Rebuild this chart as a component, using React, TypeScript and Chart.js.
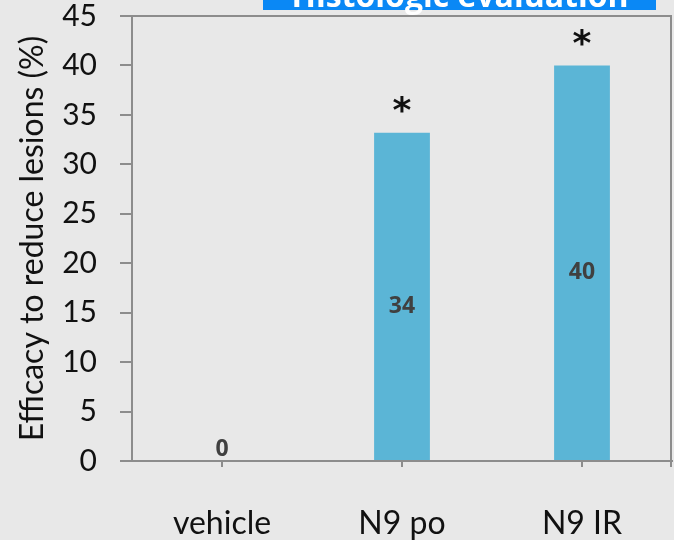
import React, { useEffect, useRef } from "react";
import { Chart, registerables } from "chart.js";

Chart.register(...registerables);

const categories = ["vehicle", "N9 po", "N9 IR"];
const efficacy = [0, 33.2, 40];
const valueLabels = ["0", "34", "40"];
const significance = ["", "*", "*"];
const yMin = 0;
const yMax = 45;
const yStep = 5;
const chartTitle = "Histologic evaluation";
const yAxisTitle = "Efficacy to reduce lesions (%)";

const FONT = "Lato, 'Liberation Sans', sans-serif";
const AXIS_COLOR = "#8c8c8c";
const BG = "#e8e8e8";

const decorPlugin = {
  id: "decor",
  beforeDraw(chart: any) {
    const ctx = chart.ctx;
    ctx.save();
    ctx.fillStyle = BG;
    ctx.fillRect(0, 0, chart.width, chart.height);
    ctx.restore();
  },
  afterDraw(chart: any) {
    const ctx = chart.ctx;
    const { top, right, bottom } = chart.chartArea;
    const meta = chart.getDatasetMeta(0);
    ctx.save();
    ctx.strokeStyle = AXIS_COLOR;
    ctx.lineWidth = 2;
    ctx.beginPath();
    ctx.moveTo(chart.chartArea.left, top);
    ctx.lineTo(right - 1, top);
    ctx.lineTo(right - 1, bottom + 6);
    ctx.stroke();

    meta.data.forEach((bar: any, i: number) => {
      const base = bar.base;
      const yTop = bar.y;
      ctx.fillStyle = "#404040";
      ctx.font = `bold 23px 'Open Sans', sans-serif`;
      ctx.textAlign = "center";
      ctx.textBaseline = "middle";
      const ly = efficacy[i] === 0 ? base - 12 : (yTop + base) / 2 + 10;
      ctx.fillText(valueLabels[i], bar.x, ly);
      if (significance[i]) {
        ctx.fillStyle = "#111";
        ctx.font = `bold 36px 'DejaVu Sans', sans-serif`;
        ctx.textBaseline = "middle";
        ctx.fillText(significance[i], bar.x, yTop - 20);
      }
    });

    ctx.fillStyle = "#0a88f5";
    ctx.fillRect(263, 0, 393, 10);
    ctx.fillStyle = "#ffffff";
    ctx.font = `bold 32px 'Open Sans', sans-serif`;
    ctx.textAlign = "center";
    ctx.textBaseline = "alphabetic";
    ctx.fillText(chartTitle, 460, 7);
    ctx.restore();
  },
};

export default function App() {
  const ref = useRef<HTMLCanvasElement>(null);
  useEffect(() => {
    if (!ref.current) return;
    const chart = new Chart(ref.current, {
      type: "bar",
      data: {
        labels: categories,
        datasets: [
          {
            data: efficacy,
            backgroundColor: "#5bb5d6",
            borderWidth: 0,
            barPercentage: 0.31,
            categoryPercentage: 1,
          },
        ],
      },
      options: {
        responsive: false,
        animation: false,
        layout: { padding: { top: 16, right: 2, left: 0, bottom: 0 } },
        plugins: {
          legend: { display: false },
          tooltip: { enabled: false },
        },
        scales: {
          x: {
            afterFit: (s: any) => {
              s.height = 79;
            },
            border: { color: AXIS_COLOR, width: 2 },
            grid: {
              display: true,
              drawOnChartArea: false,
              drawTicks: true,
              tickLength: 6,
              offset: false,
              color: AXIS_COLOR,
              lineWidth: 2,
            },
            ticks: {
              color: "#111",
              font: { family: FONT, size: 32 },
              padding: 37,
            },
          },
          y: {
            min: yMin,
            max: yMax,
            afterFit: (s: any) => {
              s.width = 132;
              s.paddingTop = 0;
              s.paddingBottom = 0;
            },
            border: { color: AXIS_COLOR, width: 2 },
            grid: {
              display: true,
              drawOnChartArea: false,
              drawTicks: true,
              tickLength: 12,
              color: AXIS_COLOR,
              lineWidth: 2,
            },
            ticks: {
              stepSize: yStep,
              color: "#111",
              font: { family: FONT, size: 30, lineHeight: 1 },
              padding: 23,
            },
            title: {
              display: true,
              text: yAxisTitle,
              color: "#111",
              font: { family: FONT, size: 32 },
              padding: { top: 13, bottom: 0 },
            },
          },
        },
      },
      plugins: [decorPlugin],
    });
    return () => chart.destroy();
  }, []);
  return (
    <div
      style={{
        position: "fixed",
        left: 0,
        top: 0,
        width: 674,
        height: 540,
        background: BG,
      }}
    >
      <canvas ref={ref} width={674} height={540} />
    </div>
  );
}
